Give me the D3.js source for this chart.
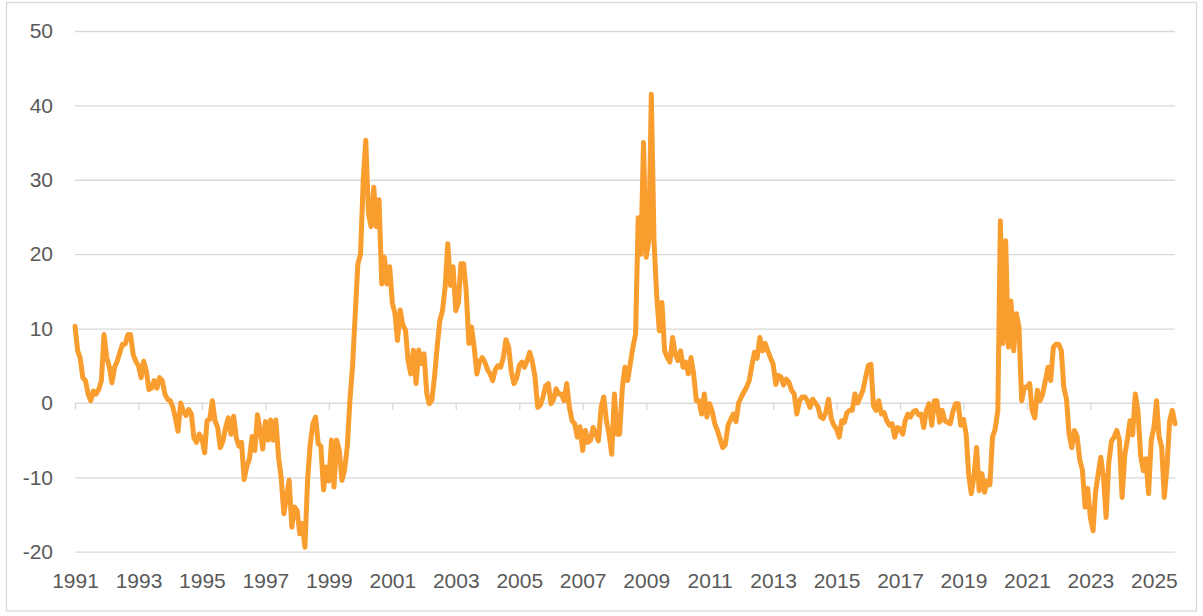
<!DOCTYPE html>
<html>
<head>
<meta charset="utf-8">
<script src="https://cdn.jsdelivr.net/npm/d3@7"></script>
<style>
    body { margin: 0; background: #ffffff; }
</style>
</head>
<body>
<svg id="chart"></svg>
<script>
// Monthly readings, first value is January 1991
const startYear = 1991;

const values1990s = [
    10.3, 7.0, 6.1, 3.4, 3.0, 1.2, 0.3, 1.6, 1.2, 1.8, 3.0, 9.2,
    6.1, 4.8, 2.7, 4.8, 5.6, 6.8, 7.9, 7.9, 9.2, 9.2, 6.5, 5.6,
    5.0, 3.4, 5.6, 4.3, 1.8, 2.0, 3.0, 2.0, 3.4, 3.0, 1.2, 0.5,
    0.3, -0.6, -2.0, -3.8, 0.0, -1.1, -1.7, -0.9, -1.5, -4.7, -5.3, -4.2,
    -4.7, -6.7, -2.4, -2.2, 0.3, -2.4, -3.3, -6.0, -5.1, -3.3, -2.0, -4.2,
    -1.8, -4.7, -5.8, -5.3, -10.3, -8.5, -7.5, -4.5, -6.4, -1.6, -3.7, -6.2,
    -2.5, -5.0, -2.3, -5.0, -2.3, -7.3, -10.0, -14.9, -12.6, -10.4, -16.7, -14.0,
    -14.5, -17.6, -16.2, -19.4, -10.4, -5.5, -2.8, -1.9, -5.5, -5.8, -11.7, -8.6,
    -10.5, -5.0, -11.3, -5.0, -6.4, -10.4, -9.0, -5.9, 0.4, 5.0, 12.0, 18.7
];

const values2000s = [
    20.0, 30.0, 35.3, 25.5, 23.7, 29.0, 23.7, 27.3, 16.0, 19.6, 16.0, 18.3,
    13.4, 12.0, 8.4, 12.5, 10.5, 9.8, 5.7, 3.9, 7.1, 2.6, 7.1, 5.3,
    6.6, 1.3, -0.1, 0.4, 3.5, 7.5, 11.0, 12.4, 15.6, 21.4, 15.8, 18.3,
    12.4, 13.5, 18.7, 18.7, 15.0, 8.0, 10.2, 7.5, 3.9, 5.5, 6.1, 5.5,
    4.5, 3.9, 3.0, 4.5, 5.0, 4.8, 6.1, 8.5, 7.5, 4.2, 2.6, 3.3,
    5.0, 5.5, 4.8, 5.7, 6.8, 5.5, 3.5, -0.6, -0.3, 0.8, 2.3, 2.6,
    -0.1, 0.5, 1.9, 1.2, 1.2, 0.3, 2.6, -0.6, -2.4, -2.8, -4.6, -3.2,
    -6.4, -3.7, -5.3, -5.0, -3.3, -4.2, -5.1, -0.6, 0.8, -2.4, -4.2, -6.9,
    1.2, -4.2, -4.2, 2.0, 4.8, 3.0, 5.2, 7.5, 9.3, 24.9, 20.0, 35.0,
    19.6, 22.0, 41.5, 21.8, 14.6, 9.7, 13.5, 7.0, 6.1, 5.5, 8.8, 6.6
];

const values2010s = [
    5.7, 7.0, 4.8, 5.5, 3.9, 6.1, 3.9, 0.3, 0.3, -1.5, 1.2, -1.9,
    -0.1, -1.2, -2.8, -3.7, -4.8, -6.0, -5.6, -3.0, -2.2, -1.5, -2.5, 0.0,
    0.8, 1.5, 2.1, 3.0, 5.0, 6.8, 6.0, 8.8, 7.0, 8.0, 7.0, 6.1,
    5.2, 2.5, 3.7, 3.5, 2.4, 3.2, 2.8, 1.7, 1.2, -1.5, 0.3, 0.8,
    0.8, 0.3, -0.6, 0.5, 0.0, -0.5, -1.9, -2.1, -1.2, 0.5, -2.1, -3.0,
    -3.5, -4.6, -2.4, -2.6, -1.3, -1.0, -1.0, 1.2, 0.0, 0.8, 1.7, 3.4,
    5.0, 5.2, -0.4, -1.0, 0.3, -1.5, -1.3, -2.4, -3.0, -2.8, -4.6, -3.3,
    -3.5, -4.2, -2.4, -1.5, -1.9, -1.2, -1.0, -1.6, -1.5, -3.3, -1.0, -0.1,
    -3.0, 0.3, 0.3, -2.6, -1.0, -2.4, -2.6, -2.8, -1.2, -0.1, -0.1, -3.0,
    -2.2, -4.2, -9.5, -12.2, -10.0, -6.0, -11.8, -9.5, -12.0, -10.5, -11.0, -4.6
];

const values2020s = [
    -3.5, -1.0, 24.5, 8.0, 21.8, 7.5, 13.7, 7.0, 12.0, 10.2, 0.3, 2.1,
    2.1, 2.6, -1.0, -2.0, 1.7, 0.3, 1.2, 3.0, 4.8, 3.0, 7.5, 7.9,
    7.9, 7.0, 2.1, 0.5, -4.2, -6.0, -3.7, -4.5, -7.7, -9.0, -14.0, -11.5,
    -15.4, -17.2, -12.0, -9.5, -7.3, -10.0, -15.4, -8.0, -5.1, -4.6, -3.7, -5.0,
    -12.7, -7.0, -5.0, -2.4, -4.3, 1.2, -1.0, -7.0, -9.1, -7.5, -12.2, -5.1,
    -3.3, 0.3, -4.5, -6.0, -12.7, -8.6, -2.4, -1.0, -2.8
];

const yTicks = [-20, -10, 0, 10, 20, 30, 40, 50];
const xTickYears = [1991, 1993, 1995, 1997, 1999, 2001, 2003, 2005, 2007,
    2009, 2011, 2013, 2015, 2017, 2019, 2021, 2023, 2025];

/*
 * Layout of the picture
 */
const dimensions = {
    width: 1203,
    height: 616,
    plotLeft: 75,
    plotRight: 1175,
    plotTop: 31,
    plotBottom: 551.7,
    labelBaseline: 588
};

const lineColor = "#f99d2e";
const gridColor = "#d9d9d9";
const textColor = "#595959";
const fontFamily = "'Liberation Sans', Arial, sans-serif";

function renderChart() {
    const values = values1990s.concat(values2000s, values2010s, values2020s);
    const data = values.map((v, i) => ({ date: new Date(startYear, i, 1), value: v }));

    const svg = d3.select("#chart")
        .attr("width", dimensions.width)
        .attr("height", dimensions.height)
        .style("font-family", fontFamily);

    // outer chart border
    svg.append("rect")
        .attr("x", 6.5)
        .attr("y", 2.5)
        .attr("width", 1190)
        .attr("height", 608.5)
        .attr("fill", "#ffffff")
        .attr("stroke", gridColor)
        .attr("stroke-width", 1.3);

    const x = d3.scaleTime()
        .domain(d3.extent(data, d => d.date))
        .range([dimensions.plotLeft, dimensions.plotRight]);

    const y = d3.scaleLinear()
        .domain([-20, 50])
        .range([dimensions.plotBottom, dimensions.plotTop]);

    // y axis with gridlines (plain hyphen for negatives, like the original)
    svg.append("g")
        .attr("transform", `translate(${dimensions.plotLeft}, 0)`)
        .call(d3.axisLeft(y)
            .tickValues(yTicks)
            .tickSize(-(dimensions.plotRight - dimensions.plotLeft))
            .tickPadding(22)
            .tickFormat(d => String(d)))
        .call(g => g.select(".domain").remove())
        .call(g => g.selectAll(".tick line")
            .attr("stroke", gridColor)
            .attr("stroke-width", 1.3))
        .call(g => g.selectAll(".tick text")
            .attr("fill", textColor)
            .style("font-size", "21px")
            .style("font-family", fontFamily));

    const tickDates = xTickYears.map(yr => new Date(yr, 0, 1));

    // x axis line and ticks sitting on zero
    svg.append("g")
        .attr("transform", `translate(0, ${y(0)})`)
        .call(d3.axisBottom(x)
            .tickValues(tickDates)
            .tickSize(7)
            .tickSizeOuter(0)
            .tickFormat(""))
        .call(g => g.select(".domain")
            .attr("stroke", gridColor)
            .attr("stroke-width", 1.3))
        .call(g => g.selectAll(".tick line")
            .attr("stroke", gridColor)
            .attr("stroke-width", 1.3));

    // year labels at the bottom
    svg.append("g")
        .attr("transform", `translate(0, ${dimensions.labelBaseline - 15})`)
        .call(d3.axisBottom(x)
            .tickValues(tickDates)
            .tickSize(0)
            .tickPadding(0)
            .tickFormat(d3.timeFormat("%Y")))
        .call(g => g.select(".domain").remove())
        .call(g => g.selectAll(".tick text")
            .attr("dy", "0.71em")
            .attr("fill", textColor)
            .style("font-size", "21px")
            .style("font-family", fontFamily));

    const line = d3.line()
        .x(d => x(d.date))
        .y(d => y(d.value));

    svg.append("path")
        .datum(data)
        .attr("fill", "none")
        .attr("stroke", lineColor)
        .attr("stroke-width", 5)
        .attr("stroke-linejoin", "round")
        .attr("stroke-linecap", "round")
        .attr("d", line);
}

renderChart();
</script>
</body>
</html>
